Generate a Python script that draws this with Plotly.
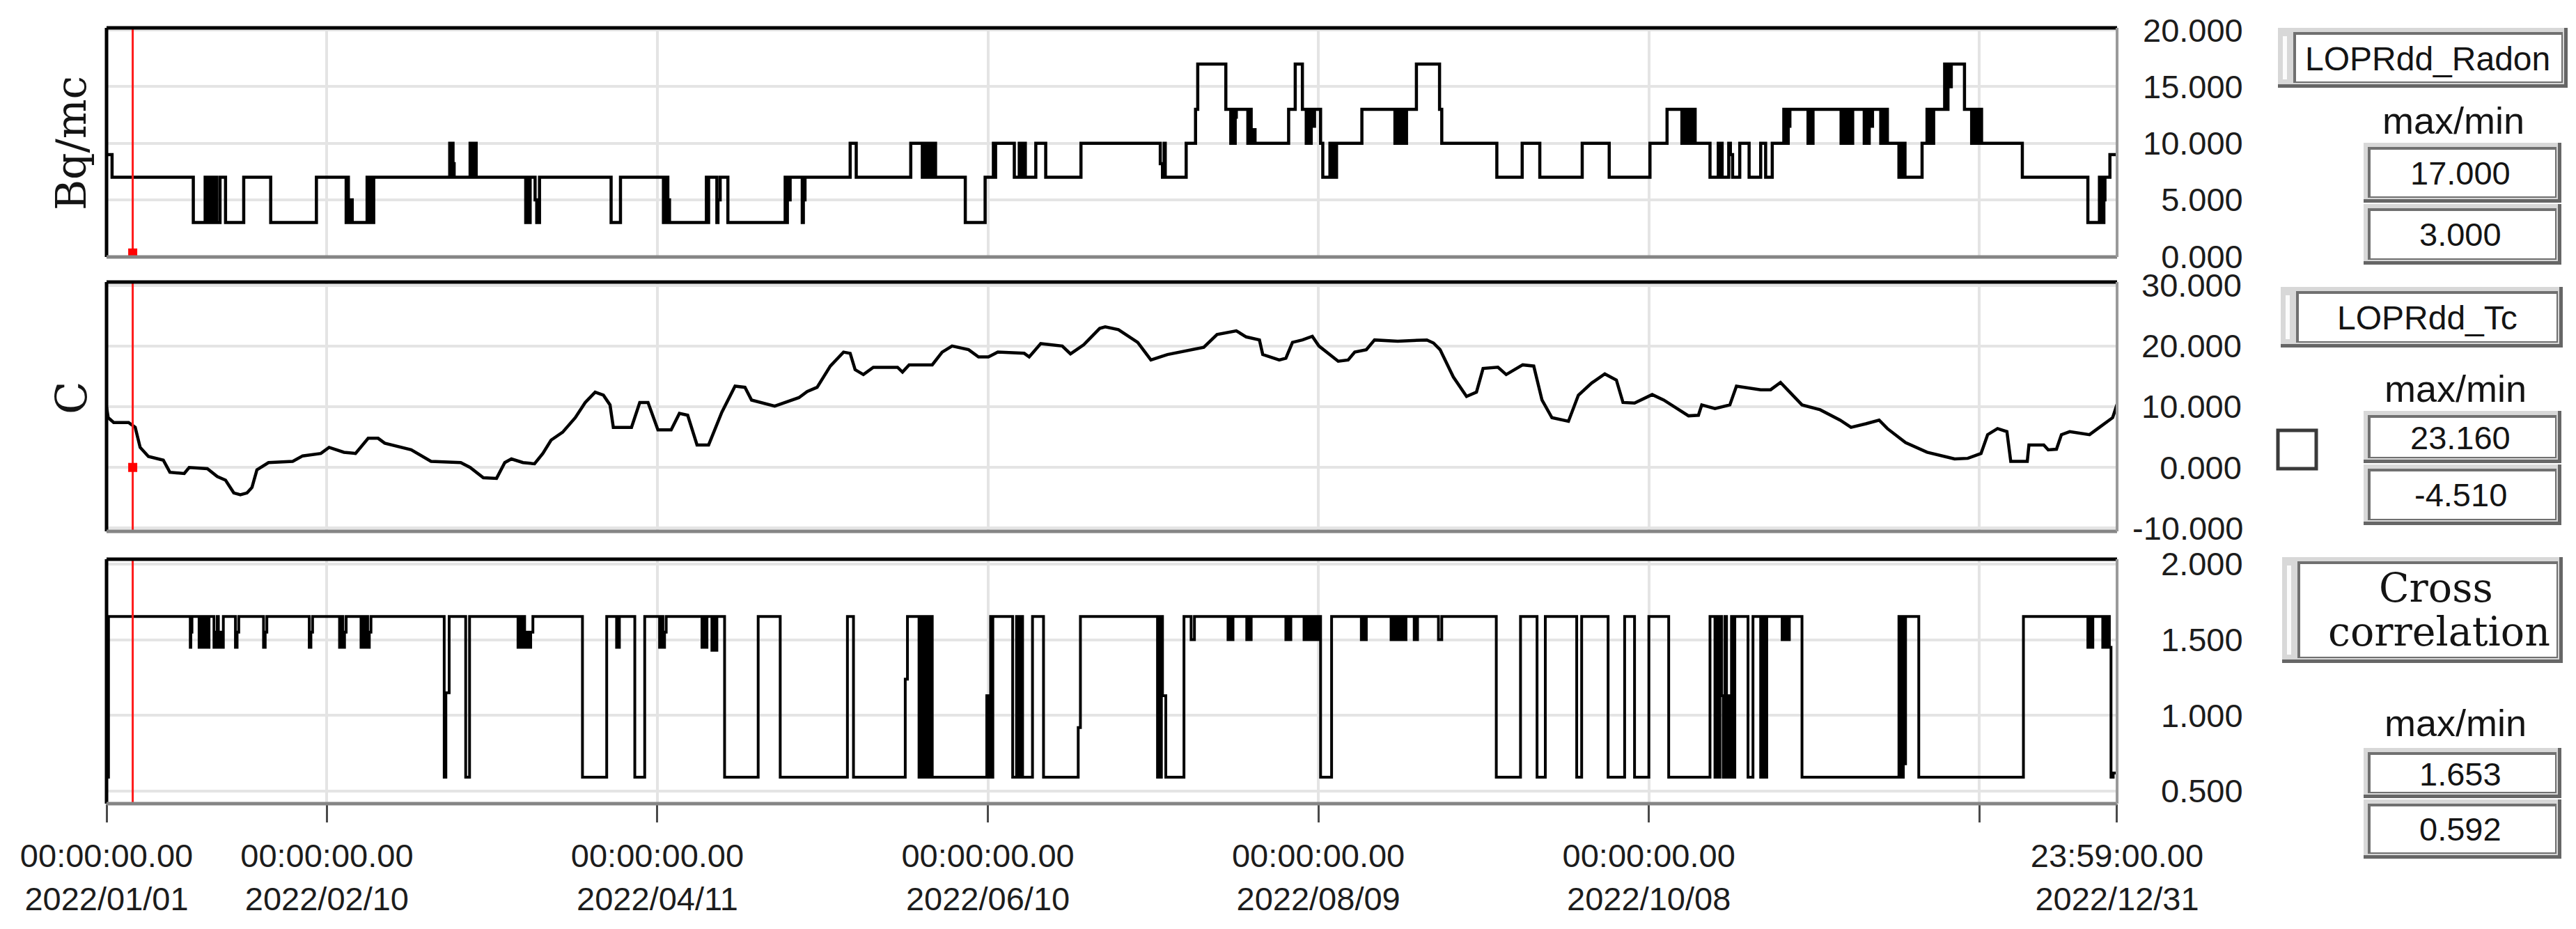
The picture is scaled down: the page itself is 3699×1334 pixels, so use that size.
import numpy as np
import pandas as pd
import plotly.graph_objects as go

W, H = 3699, 1334
BASE = pd.Timestamp("2022-01-01 00:00:00")
HI, LO = 1.653, 0.592

# ---------------- data (day-of-year offset, value) ----------------
radon_steps = [
    (0.0, 9), (1.0, 7), (15.75, 3),
    (17.9, 7), (18.2, 3), (18.5, 7), (18.8, 3), (19.1, 7), (19.4, 3), (19.7, 7), (20.0, 3),
    (20.6, 7), (21.6, 3), (24.9, 7), (29.8, 3), (38.1, 7),
    (43.5, 3), (43.7, 7), (43.9, 3), (44.1, 5), (44.6, 3),
    (47.3, 7), (47.6, 3), (47.9, 7), (48.2, 3), (48.5, 7),
    (62.3, 10), (62.6, 7), (62.75, 10), (62.9, 8.2), (63.1, 7),
    (66.0, 10), (66.3, 7), (66.5, 10), (66.8, 7), (66.9, 10), (67.1, 7),
    (76.1, 3), (76.4, 7), (76.6, 3), (76.9, 7),
    (77.8, 5), (78.1, 3), (78.6, 7),
    (91.6, 3), (93.3, 7),
    (101.1, 3), (101.3, 7), (101.5, 3), (101.7, 7), (101.9, 5), (102.2, 3),
    (108.9, 7), (109.1, 3), (109.3, 7),
    (110.8, 3), (111.0, 5), (111.4, 7), (112.8, 3),
    (123.2, 7), (123.4, 3), (123.6, 7), (123.8, 5), (124.1, 7),
    (126.3, 3), (126.5, 5), (126.8, 7),
    (135.0, 10), (136.1, 7), (146.0, 10),
    (148.1, 7), (148.4, 10), (148.7, 7), (149.0, 10), (149.3, 7), (149.6, 10), (149.9, 7), (150.2, 10), (150.5, 7),
    (155.9, 3), (159.5, 7),
    (161.0, 10), (161.2, 7), (161.4, 10), (164.8, 7),
    (165.7, 10), (165.9, 7), (166.1, 10), (166.3, 7), (166.5, 10), (166.8, 7),
    (168.7, 10), (170.5, 7), (176.9, 10),
    (191.3, 8.2), (191.7, 7), (192.0, 10), (192.2, 7),
    (196.0, 10), (197.7, 13), (198.1, 17), (203.2, 13),
    (204.1, 10), (204.4, 13), (204.7, 10), (204.9, 12.3), (205.1, 13),
    (207.2, 10), (207.5, 13), (207.8, 10), (208.1, 11.2), (208.5, 10),
    (214.6, 13), (215.8, 17), (217.1, 13),
    (217.8, 10), (218.1, 13), (218.4, 10), (218.7, 13), (219.0, 11.5), (219.3, 13),
    (220.4, 10), (220.8, 7),
    (222.1, 10), (222.4, 7), (222.7, 10), (223.0, 7), (223.3, 10),
    (227.9, 13),
    (233.9, 10), (234.2, 13), (234.5, 10), (234.8, 13), (235.1, 10), (235.4, 13), (235.7, 10), (236.0, 13),
    (237.8, 17), (242.0, 13), (242.4, 10),
    (252.4, 7), (257.0, 10), (260.2, 7), (267.9, 10), (272.8, 7),
    (280.2, 10), (283.3, 13),
    (286.0, 10), (286.3, 13), (286.6, 10), (286.9, 13), (287.2, 10), (287.5, 13), (287.8, 10), (288.1, 13), (288.4, 10),
    (291.1, 7),
    (292.6, 10), (292.9, 7), (293.1, 10), (293.3, 7),
    (294.5, 10), (294.8, 9), (295.2, 7),
    (296.5, 10), (298.2, 7), (300.3, 10), (301.2, 7), (302.4, 10),
    (304.5, 13), (304.7, 10), (304.9, 13), (305.1, 10), (305.3, 11.5), (305.6, 13),
    (308.9, 10), (309.2, 13), (309.5, 10), (309.8, 13),
    (314.9, 10), (315.2, 13), (315.5, 10), (315.8, 13), (316.1, 10), (316.4, 13), (316.7, 10), (317.0, 13),
    (319.1, 10), (319.4, 13), (319.7, 10), (320.0, 13), (320.3, 11.5), (320.6, 13),
    (322.1, 10), (322.4, 13), (322.7, 10), (323.0, 13), (323.3, 10),
    (325.4, 7), (325.7, 10), (326.0, 7), (326.3, 10), (326.5, 7),
    (329.6, 10),
    (330.5, 13), (330.8, 10), (331.1, 13), (331.4, 10), (331.7, 13),
    (333.7, 17), (334.0, 13), (334.3, 17), (334.6, 15), (334.9, 17),
    (337.3, 13),
    (338.6, 10), (338.9, 13), (339.2, 10), (339.5, 13), (339.8, 10), (340.1, 13), (340.4, 10),
    (347.8, 7), (359.7, 3),
    (361.8, 7), (362.0, 3), (362.2, 7), (362.4, 3), (362.6, 5), (362.8, 7),
    (363.7, 9), (364.999, 9),
]

temp_points = [
    (0.0, 9.9), (0.3, 8.2), (1.3, 7.4), (4.0, 7.4), (5.2, 6.6), (6.1, 3.3), (7.6, 1.8), (10.3, 1.2),
    (11.5, -0.8), (14.1, -1.0), (15.0, 0.0), (18.3, -0.2), (20.1, -1.5), (21.6, -2.1), (23.1, -4.2),
    (24.3, -4.51), (25.5, -4.2), (26.4, -3.3), (27.3, -0.4), (29.4, 0.8), (33.8, 1.0), (35.6, 1.9),
    (38.9, 2.3), (40.4, 3.3), (43.1, 2.5), (45.2, 2.3), (47.5, 4.8), (49.3, 4.8), (50.5, 4.0),
    (52.9, 3.5), (55.3, 2.9), (58.9, 1.0), (64.3, 0.8), (66.0, 0.0), (68.4, -1.7), (70.8, -1.8),
    (72.3, 0.8), (73.5, 1.4), (75.6, 0.8), (77.7, 0.6), (79.2, 2.3), (80.7, 4.5), (82.8, 5.8),
    (85.1, 8.2), (86.9, 10.7), (88.7, 12.4), (90.2, 11.9), (91.4, 10.3), (92.0, 6.6), (95.3, 6.6),
    (96.8, 10.7), (98.3, 10.7), (100.1, 6.2), (102.5, 6.2), (104.0, 8.9), (105.5, 8.6), (107.2, 3.7),
    (109.3, 3.7), (111.7, 9.1), (114.1, 13.4), (115.9, 13.2), (117.1, 11.1), (121.3, 10.1),
    (125.7, 11.5), (127.2, 12.5), (129.0, 13.2), (131.4, 16.7), (133.8, 19.0), (135.0, 18.8),
    (135.9, 16.1), (137.4, 15.3), (139.2, 16.5), (143.6, 16.5), (144.5, 15.7), (145.7, 16.9),
    (149.9, 16.9), (151.7, 19.0), (153.5, 20.0), (156.5, 19.4), (158.3, 18.2), (160.1, 18.2),
    (161.8, 19.0), (166.6, 18.8), (167.5, 18.2), (169.6, 20.4), (173.5, 20.0), (175.0, 18.7),
    (177.4, 20.2), (180.3, 22.9), (181.3, 23.16), (183.7, 22.7), (187.2, 20.6), (189.6, 17.7),
    (192.6, 18.6), (196.2, 19.2), (199.2, 19.8), (201.6, 21.9), (205.1, 22.5), (206.9, 21.5),
    (209.3, 21.0), (209.9, 18.6), (212.9, 17.7), (214.1, 18.0), (215.3, 20.6), (217.1, 21.0),
    (218.9, 21.6), (220.1, 20.0), (223.6, 17.5), (225.4, 17.7), (226.6, 19.0), (228.7, 19.4),
    (230.2, 21.0), (234.4, 20.8), (239.7, 21.0), (240.9, 20.5), (242.1, 19.4), (244.5, 14.9),
    (246.9, 11.7), (248.7, 12.4), (249.9, 16.3), (252.6, 16.5), (254.1, 15.3), (257.1, 16.9),
    (259.1, 16.7), (260.6, 11.1), (262.4, 8.2), (265.4, 7.6), (267.2, 11.9), (269.6, 13.9),
    (272.0, 15.4), (274.1, 14.4), (275.3, 10.7), (277.4, 10.6), (280.6, 12.0), (282.7, 11.1),
    (287.2, 8.5), (289.0, 8.6), (289.6, 10.3), (292.0, 9.7), (294.7, 10.3), (295.9, 13.4),
    (300.3, 12.8), (302.1, 12.8), (303.9, 14.0), (307.8, 10.3), (311.1, 9.5), (314.7, 7.8),
    (316.7, 6.6), (319.4, 7.2), (321.8, 7.8), (323.3, 6.4), (326.6, 4.1), (330.5, 2.5),
    (335.5, 1.4), (337.9, 1.5), (340.3, 2.3), (341.5, 5.4), (343.3, 6.4), (345.0, 5.9),
    (345.7, 1.0), (348.7, 1.0), (349.0, 3.7), (351.7, 3.7), (352.5, 2.9), (354.0, 3.0),
    (354.9, 5.4), (356.4, 5.9), (360.0, 5.4), (361.8, 6.6), (364.2, 8.2), (364.999, 10.4),
]

xcorr_steps = [
    (0.0, LO), (0.35, HI),
    (15.2, 1.45), (15.3, 1.55), (15.5, HI),
    (16.8, 1.45), (17.1, HI), (17.3, 1.45), (17.6, HI), (17.8, 1.45), (18.1, HI), (18.3, 1.45), (18.6, HI),
    (19.5, 1.45), (19.8, 1.55), (20.1, HI), (20.3, 1.45), (20.6, 1.55), (20.9, 1.45), (21.2, HI),
    (23.4, 1.45), (23.7, 1.55), (24.0, HI),
    (28.5, 1.45), (28.8, 1.55), (29.1, HI),
    (36.8, 1.45), (37.1, 1.55), (37.4, HI),
    (42.3, 1.45), (42.6, HI), (42.9, 1.45), (43.2, 1.55), (43.5, HI),
    (46.2, 1.45), (46.5, HI), (46.8, 1.45), (47.1, HI), (47.4, 1.45), (47.7, 1.55), (48.0, HI),
    (61.3, LO), (61.6, 1.15), (62.2, HI),
    (65.2, LO), (65.9, HI),
    (74.7, 1.45), (75.0, HI), (75.3, 1.45), (75.6, HI), (75.9, 1.45), (76.2, 1.55), (76.6, 1.45), (77.0, 1.55), (77.4, HI),
    (86.4, LO), (90.8, HI),
    (92.6, 1.45), (93.1, HI),
    (95.9, LO), (97.7, HI),
    (100.4, 1.45), (100.7, HI), (101.0, 1.45), (101.3, 1.55), (101.6, HI),
    (108.1, 1.45), (108.4, HI), (108.7, 1.45), (109.0, HI),
    (109.9, 1.43), (110.2, HI), (110.4, 1.43), (110.8, HI),
    (112.2, LO), (118.3, HI), (122.3, LO), (134.5, HI), (135.6, LO),
    (145.0, 1.24), (145.4, HI),
    (147.5, LO), (147.8, HI), (148.1, LO), (148.4, HI), (148.7, LO), (149.0, HI), (149.3, LO), (149.6, HI), (149.9, LO),
    (159.8, 1.13), (160.3, LO), (160.5, HI), (160.7, LO), (160.9, HI),
    (164.5, LO), (165.2, HI), (165.6, LO), (166.0, HI), (166.3, LO), (168.1, HI),
    (170.1, LO), (176.4, 0.92), (176.8, HI),
    (190.8, LO), (191.0, HI), (191.3, LO), (191.5, HI), (191.7, 1.13), (192.3, LO),
    (195.6, HI),
    (196.9, 1.5), (197.5, HI),
    (203.6, 1.5), (204.0, HI), (204.2, 1.5), (204.5, HI),
    (207.0, 1.5), (207.4, HI), (207.6, 1.5), (207.8, HI),
    (214.1, 1.5), (214.4, HI), (214.7, 1.5), (215.0, HI),
    (217.4, 1.5), (217.7, HI), (218.0, 1.5), (218.3, HI), (218.6, 1.5), (218.9, HI), (219.2, 1.5), (219.5, HI), (219.8, 1.5), (220.1, HI),
    (220.4, LO), (222.4, HI),
    (227.8, 1.5), (228.1, HI), (228.4, 1.5), (228.7, HI),
    (233.2, 1.5), (233.5, HI), (233.8, 1.5), (234.1, HI), (234.4, 1.5), (234.7, HI), (235.0, 1.5), (235.3, HI), (235.6, 1.5), (235.9, HI),
    (237.4, 1.5), (237.6, HI), (237.8, 1.5), (238.0, HI),
    (241.8, 1.5), (242.4, HI),
    (252.3, LO), (256.7, HI), (259.7, LO), (261.2, HI), (266.9, LO), (267.8, HI),
    (272.6, LO), (275.6, HI), (277.4, LO), (280.0, HI), (283.6, LO), (291.1, HI),
    (292.0, LO), (292.3, HI), (292.6, LO), (292.9, HI), (293.2, 1.13), (293.5, LO), (293.8, HI),
    (294.1, LO), (294.4, 1.13), (294.7, LO), (295.0, HI), (295.3, LO), (295.6, HI),
    (298.0, LO), (298.9, HI), (300.3, LO), (300.6, HI), (301.0, LO), (301.4, HI),
    (304.2, 1.5), (304.6, HI), (305.0, 1.5), (305.5, HI),
    (307.8, LO),
    (325.4, HI), (325.6, LO), (325.8, HI), (326.0, LO), (326.2, HI), (326.4, 0.68), (326.6, HI),
    (329.0, LO), (348.0, HI),
    (359.7, 1.45), (360.0, HI), (360.3, 1.45), (360.6, HI),
    (362.4, 1.45), (362.7, HI), (363.0, 1.45), (363.3, HI), (363.6, 1.45),
    (363.9, LO), (364.3, 0.62), (364.999, 0.62),
]

cursor_day = 4.75
cursor_marker_val = [0.0, 0.0]   # panel 1, panel 2

tick_day = [0, 40, 100, 160, 220, 280, 340, 364 + 1439 / 1440]
tick_time = ["00:00:00.00"] * 6 + ["", "23:59:00.00"]
tick_date = ["2022/01/01", "2022/02/10", "2022/04/11", "2022/06/10",
             "2022/08/09", "2022/10/08", "", "2022/12/31"]

radon_ticks = [0, 5, 10, 15, 20]
radon_ticktext = ["\u20070.000", "\u20075.000", "10.000", "15.000", "20.000"]
temp_ticks = [-10, 0, 10, 20, 30]
temp_ticktext = ["-10.000", "\u2008\u20070.000", "\u200810.000", "\u200820.000", "\u200830.000"]
xc_ticks = [0.5, 1.0, 1.5, 2.0]
xc_ticktext = ["0.500", "1.000", "1.500", "2.000"]

radon_minmax = ["17.000", "3.000"]
temp_minmax = ["23.160", "-4.510"]
xc_minmax = ["1.653", "0.592"]


def T(days):
    return BASE + pd.to_timedelta(np.asarray(days, dtype=float), unit="D")


radon_day, radon_val = zip(*radon_steps)
temp_day, temp_val = zip(*temp_points)
xc_day, xc_val = zip(*xcorr_steps)

# ---------------- geometry (pixel -> paper) ----------------
def px(x):
    return x / W


def py(y):
    return 1 - y / H


XD = [px(145.0), px(3032.0)]
Y1D = [py(361), py(32)]
Y2D = [py(755), py(397)]
Y3D = [py(1146), py(795)]
R1 = [-0.05, 20.2]
R2 = [-10.53, 30.54]
R3 = [0.417, 2.032]

SANS = "Liberation Sans, Arial, sans-serif"
SERIF = "DejaVu Serif, Liberation Serif, serif"
TICKFONT = dict(family=SANS, size=47, color="#1c1c1c")
GRID = "#e4e4e4"

fig = go.Figure()
fig.add_trace(go.Scatter(x=T(radon_day), y=radon_val, mode="lines",
                         line=dict(color="black", width=4.5, shape="hv"),
                         xaxis="x", yaxis="y", hoverinfo="skip"))
fig.add_trace(go.Scatter(x=T(temp_day), y=temp_val, mode="lines", line=dict(color="black", width=4.5),
                         xaxis="x2", yaxis="y2", hoverinfo="skip"))
fig.add_trace(go.Scatter(x=T(xc_day), y=xc_val, mode="lines",
                         line=dict(color="black", width=4, shape="hv"),
                         xaxis="x3", yaxis="y3", hoverinfo="skip"))

# cursor
for xa, ya, rng in (("x", "y", R1), ("x2", "y2", R2), ("x3", "y3", R3)):
    fig.add_trace(go.Scatter(x=T([cursor_day, cursor_day]), y=rng, mode="lines",
                             line=dict(color="#ff1a1a", width=3), xaxis=xa, yaxis=ya, hoverinfo="skip"))
fig.add_trace(go.Scatter(x=T([cursor_day]), y=[cursor_marker_val[0] + 0.3], mode="markers",
                         marker=dict(symbol="square", size=13, color="#ff0000"),
                         xaxis="x", yaxis="y", hoverinfo="skip"))
fig.add_trace(go.Scatter(x=T([cursor_day]), y=[cursor_marker_val[1]], mode="markers",
                         marker=dict(symbol="square", size=13, color="#ff0000"),
                         xaxis="x2", yaxis="y2", hoverinfo="skip"))

xrange = [T([-0.001])[0], T([365.0])[0]]
tickvals = list(T(tick_day))
ticktext = [f"{t}<br>{d}" if t else "" for t, d in zip(tick_time, tick_date)]

xcommon = dict(domain=XD, range=xrange, type="date", tickmode="array", tickvals=tickvals,
               showgrid=True, gridcolor=GRID, gridwidth=3.5, zeroline=False, showline=False,
               automargin=False)
ycommon = dict(side="right", showgrid=True, gridcolor=GRID, gridwidth=3.5, zeroline=False,
               showline=False, ticks="", tickfont=TICKFONT, tickmode="array", automargin=False)

fig.update_layout(
    width=W, height=H, autosize=False,
    margin=dict(l=0, r=0, t=0, b=0, pad=0, autoexpand=False),
    paper_bgcolor="white", plot_bgcolor="white", showlegend=False,
    xaxis=dict(xcommon, anchor="y", showticklabels=False, ticks=""),
    xaxis2=dict(xcommon, anchor="y2", showticklabels=False, ticks=""),
    xaxis3=dict(xcommon, anchor="y3", showticklabels=True, ticktext=ticktext, ticks="outside",
                ticklen=26, tickwidth=3, tickcolor="#4a4a4a", tickfont=TICKFONT, ticklabelstandoff=8),
    yaxis=dict(ycommon, domain=Y1D, anchor="x", range=R1, tickvals=radon_ticks,
               ticktext=radon_ticktext, ticklabelstandoff=36),
    yaxis2=dict(ycommon, domain=Y2D, anchor="x2", range=R2, tickvals=temp_ticks,
                ticktext=temp_ticktext, ticklabelstandoff=21),
    yaxis3=dict(ycommon, domain=Y3D, anchor="x3", range=R3, tickvals=xc_ticks,
                ticktext=xc_ticktext, ticklabelstandoff=62),
)

shapes = []
# panel frames: dark top/left, grey bottom/right
for xr, yr in (("x domain", "y domain"), ("x2 domain", "y2 domain"), ("x3 domain", "y3 domain")):
    for (x0, y0, x1, y1, col, w) in ((0, 1, 1, 1, "black", 5), (0, 0, 0, 1, "black", 5),
                                     (0, 0, 1, 0, "#858585", 5), (1, 0, 1, 1, "#9a9a9a", 4)):
        shapes.append(dict(type="line", xref=xr, yref=yr, x0=x0, y0=y0, x1=x1, y1=y1,
                           line=dict(color=col, width=w), layer="above"))


def rect(x0, y0, x1, y1, fill):
    shapes.append(dict(type="rect", xref="paper", yref="paper", x0=px(x0), x1=px(x1),
                       y0=py(y1), y1=py(y0), fillcolor=fill, line=dict(width=0), layer="above"))


def bevel(x0, y0, x1, y1, strip=0):
    rect(x0, y0, x1, y1, "#666666")
    rect(x0, y0, x1 - 5, y1 - 5, "#d8d8d8")
    if strip:
        rect(x0 + 7, y0 + 12, x0 + 13, y1 - 12, "#fbfbfb")
    rect(x0 + 6 + strip, y0 + 6, x1 - 7, y1 - 7, "#707070")
    rect(x0 + 10 + strip, y0 + 10, x1 - 9, y1 - 9, "#ffffff")


NB0, NB1 = 3386, 3670
bevel(3263, 32, 3679, 118, strip=16)
bevel(NB0, 197, NB1, 283)
bevel(NB0, 285, NB1, 372)
bevel(3267, 404, 3672, 491, strip=16)
bevel(NB0, 582, NB1, 657)
bevel(NB0, 659, NB1, 746)
bevel(3269, 792, 3672, 944, strip=16)
bevel(NB0, 1066, NB1, 1138)
bevel(NB0, 1140, NB1, 1225)
# checkbox
shapes.append(dict(type="rect", xref="paper", yref="paper", x0=px(3263), x1=px(3318),
                   y0=py(665), y1=py(610), fillcolor="white",
                   line=dict(color="#3a3a3a", width=5), layer="above"))

fig.update_layout(shapes=shapes)

ann = []


def text(x, y, s, size=48, family=SANS, angle=0):
    ann.append(dict(x=px(x), y=py(y), xref="paper", yref="paper", text=s, showarrow=False,
                    xanchor="center", yanchor="middle", textangle=angle,
                    font=dict(family=family, size=size, color="#141414")))


NC = 3525
text(94, 198, "Bq/mc", size=60, family=SERIF, angle=-90)
text(94, 564, "C", size=62, family=SERIF, angle=-90)

text(3478, 76, "LOPRdd_Radon", size=48)
text(3515, 165, "max/min", size=54)
text(NC, 240, radon_minmax[0], size=47)
text(NC, 328, radon_minmax[1], size=47)

text(3477, 448, "LOPRdd_Tc", size=48)
text(3518, 550, "max/min", size=54)
text(NC, 621, temp_minmax[0], size=47)
text(NC, 702, temp_minmax[1], size=47)

text(3490, 836, "Cross", size=57, family=SERIF)
text(3494, 899, "correlation", size=57, family=SERIF)
text(3518, 1030, "max/min", size=54)
text(NC, 1103, xc_minmax[0], size=47)
text(NC, 1182, xc_minmax[1], size=47)

fig.update_layout(annotations=ann)

fig.write_html("out.html")
